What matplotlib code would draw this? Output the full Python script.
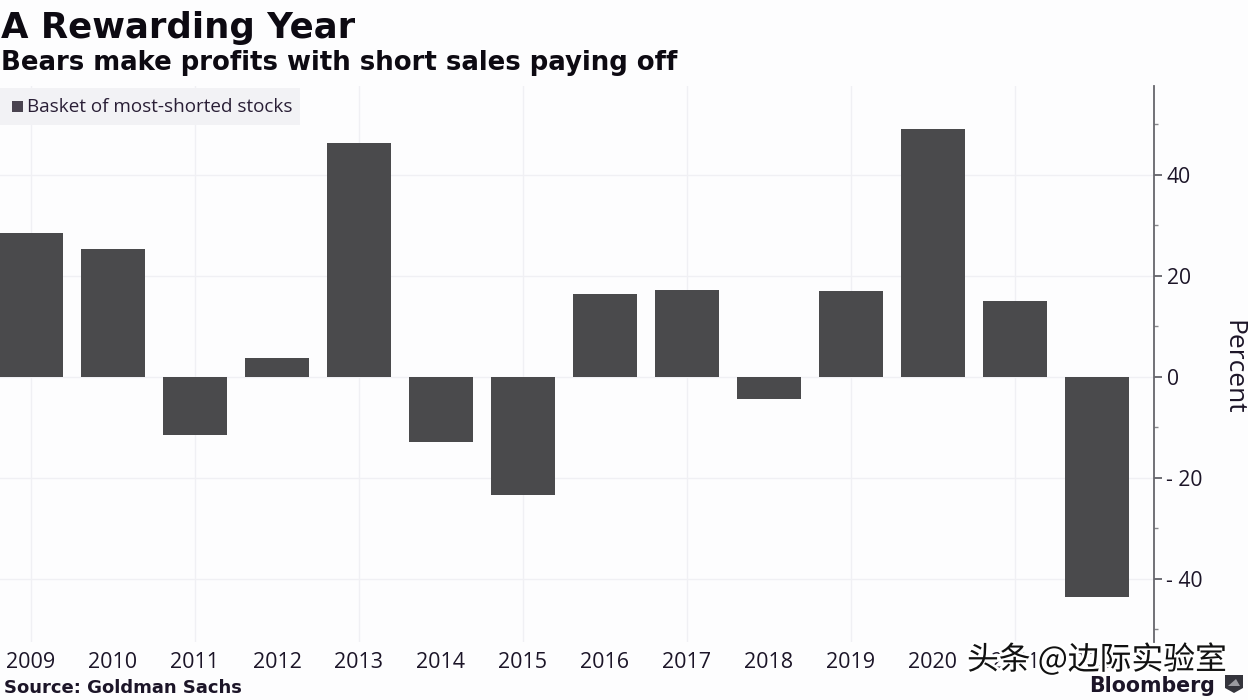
import matplotlib
matplotlib.use("Agg")
import matplotlib.pyplot as plt
import matplotlib.patheffects as pe
from matplotlib.patches import Rectangle, Polygon

years = [2009, 2010, 2011, 2012, 2013, 2014, 2015, 2016, 2017, 2018, 2019, 2020, 2021, 2022]
values = [28.4, 25.4, -11.6, 3.7, 46.4, -12.8, -23.3, 16.4, 17.3, -4.3, 17.1, 49.0, 15.0, -43.5]
yticks = [-40, -20, 0, 20, 40]
minor_ticks = [-50, -30, -10, 10, 30, 50]
grid_years = [2009, 2011, 2013, 2015, 2017, 2019, 2021]

W, H = 1248, 700
fig = plt.figure(figsize=(W / 100, H / 100), dpi=100, facecolor="#fdfdfe")
plt.rcParams["font.family"] = ["Open Sans", "DejaVu Sans"]

L, R, T, B = 0, 1154, 86, 642
ax = fig.add_axes([L / W, 1 - B / H, (R - L) / W, (B - T) / H])
ax.set_facecolor("#fdfdfe")
ax.set_xlim(2009 - 31 / 82, 2009 + (1154 - 31) / 82)
ax.set_ylim(-52.5, 57.6)

ax.bar(years, values, width=64 / 82, color="#4a4a4c", zorder=3)
for g in grid_years:
    ax.axvline(g, color="#f0f0f4", lw=1, zorder=1)
for t in yticks:
    ax.axhline(t, color="#f0f0f4", lw=1, zorder=1)

for s in ["top", "left", "bottom"]:
    ax.spines[s].set_visible(False)
ax.spines["right"].set_color("#66666c")
ax.spines["right"].set_linewidth(1.3)

ax.yaxis.tick_right()
ax.set_yticks(yticks)
ax.set_yticklabels([f"- {abs(t)}" if t < 0 else str(t) for t in yticks], fontsize=15.2, color="#1c1528")
ax.set_yticks(minor_ticks, minor=True)
ax.tick_params(axis="y", which="major", length=6, width=1.2, color="#55555c", pad=3)
ax.tick_params(axis="y", which="minor", length=3, width=1, color="#88888c")
ax.set_xticks(years)
ax.set_xticklabels([str(y) for y in years], fontsize=15.5, color="#1c1528")
ax.tick_params(axis="x", length=0, pad=7)

fig.text(1233 / W, 1 - 367 / H, "Percent", rotation=270, ha="center", va="center",
         fontsize=19, color="#1c1528")

fig.text(1 / W, 1 - 28 / H, "A Rewarding Year", family="DejaVu Sans", weight="bold",
         fontsize=25.6, color="#0d0a12", va="center", ha="left")
fig.text(1 / W, 1 - 63 / H, "Bears make profits with short sales paying off", family="DejaVu Sans",
         weight="bold", fontsize=18.7, color="#0d0a12", va="center", ha="left")
fig.text(4 / W, 1 - 688 / H, "Source: Goldman Sachs", family="DejaVu Sans", weight="bold",
         fontsize=13, color="#1c1528", va="center", ha="left")

fig.add_artist(Rectangle((0, 1 - 125 / H), 300 / W, 37 / H, transform=fig.transFigure,
                         fc="#f2f2f5", ec="none", zorder=4))
fig.add_artist(Rectangle((12 / W, 1 - 112 / H), 11 / W, 11 / H, transform=fig.transFigure,
                         fc="#4a4450", ec="none", zorder=5))
fig.text(27 / W, 1 - 107 / H, "Basket of most-shorted stocks", fontsize=13.6, color="#2a1f36",
         va="center", ha="left", zorder=5)

fig.text(1089 / W, 1 - 686 / H, "Bloomberg", family="DejaVu Sans", weight="bold", fontsize=14.8,
         color="#1c1528", va="center", ha="left", zorder=5)
fig.add_artist(Polygon([(1225 / W, 1 - 675 / H), (1243 / W, 1 - 675 / H), (1243 / W, 1 - 688 / H),
                        (1234 / W, 1 - 693 / H), (1225 / W, 1 - 688 / H)], closed=True,
                       transform=fig.transFigure, fc="#34343c", ec="none", zorder=5))
fig.add_artist(Polygon([(1228 / W, 1 - 686 / H), (1236 / W, 1 - 679 / H), (1240 / W, 1 - 686 / H)],
                       closed=True, transform=fig.transFigure, fc="#9a9aa0", ec="none", zorder=6))

fig.text(967 / W, 1 - 660 / H, "头条 @边际实验室", family=["Noto Sans CJK SC", "DejaVu Sans"],
         fontsize=22.9, color="#111111", va="center", ha="left", zorder=10,
         path_effects=[pe.withStroke(linewidth=4, foreground="white")])

fig.savefig("out.png", dpi=100, facecolor=fig.get_facecolor())
